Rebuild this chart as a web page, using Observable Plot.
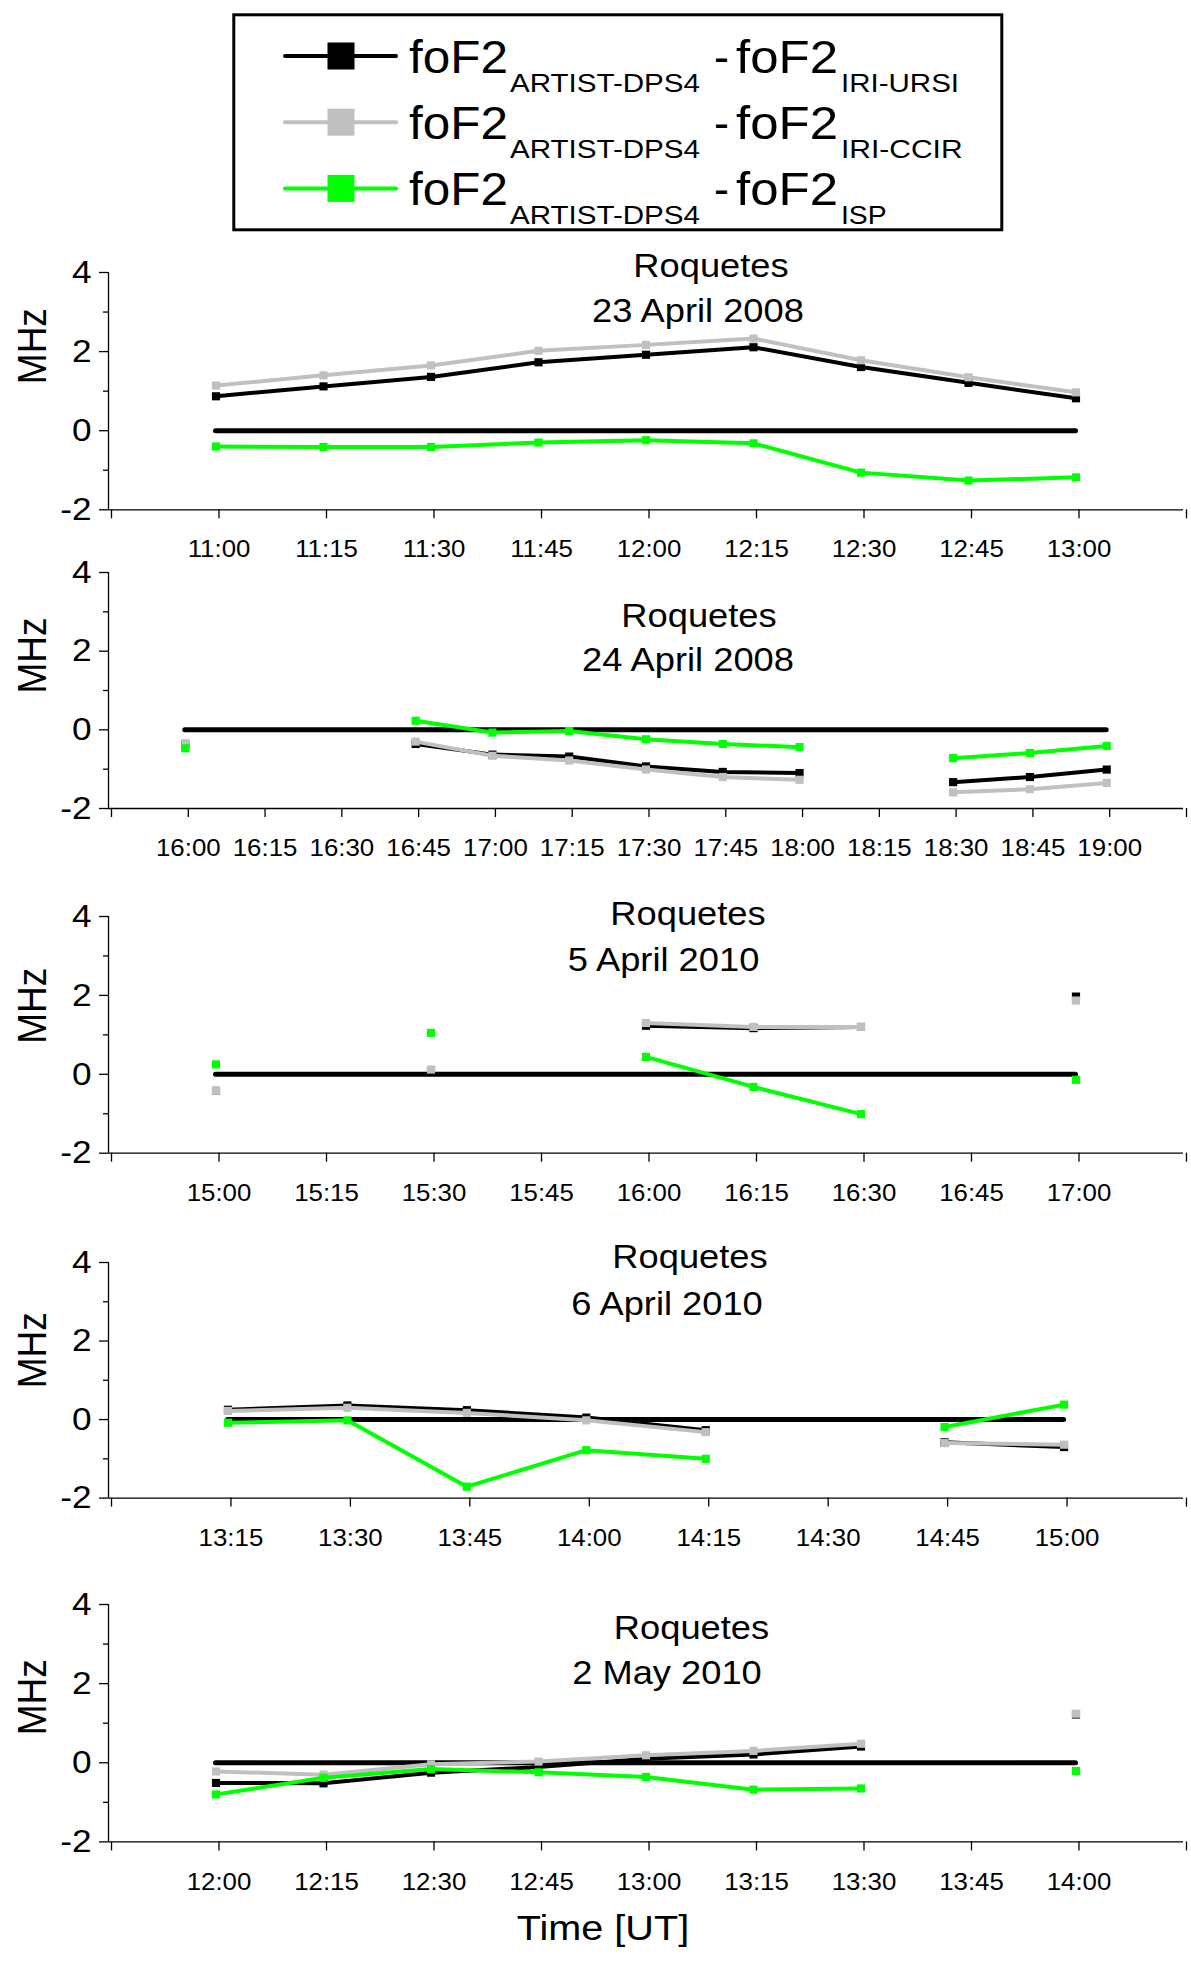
<!DOCTYPE html>
<html>
<head>
<meta charset="utf-8">
<script src="https://cdn.jsdelivr.net/npm/d3@7"></script>
<script src="https://cdn.jsdelivr.net/npm/@observablehq/plot@0.6"></script>
<style>
  html, body { margin: 0; padding: 0; background: #fff; overflow: hidden; }
  #fig { position: relative; width: 1191px; height: 1965px; font-family: "Liberation Sans", Arial, sans-serif; }
  #fig svg { position: absolute; left: 0; overflow: visible; }
</style>
</head>
<body>
<div id="fig"></div>
<script>
// ---------------- DATA ----------------
const seriesNames  = ["IRI-URSI", "IRI-CCIR", "ISP"];
const seriesColors = ["#000000", "#c0c0c0", "#00ff00"];
const legendMain = "foF2";
const legendRef  = "ARTIST-DPS4";

const stationName = "Roquetes";
const panelDates = ["23 April 2008", "24 April 2008", "5 April 2010", "6 April 2010", "2 May 2010"];
const yAxisLabel = "MHz";
const xAxisLabel = "Time [UT]";
const yMajorTicks = [-2, 0, 2, 4];
const yMinorTicks = [-1, 1, 3];

// Panel 1 — 23 April 2008
const p1Times = ["11:00","11:15","11:30","11:45","12:00","12:15","12:30","12:45","13:00"];
const p1Ursi  = [0.87, 1.12, 1.36, 1.73, 1.92, 2.11, 1.61, 1.21, 0.82];
const p1Ccir  = [1.14, 1.40, 1.65, 2.02, 2.17, 2.33, 1.78, 1.35, 0.97];
const p1Isp   = [-0.40, -0.41, -0.41, -0.30, -0.24, -0.32, -1.06, -1.26, -1.18];

// Panel 2 — 24 April 2008
const p2Times = ["16:00","16:15","16:30","16:45","17:00","17:15","17:30","17:45","18:00","18:15","18:30","18:45","19:00"];
const p2Ursi  = [-0.38, null, null, -0.36, -0.63, -0.68, -0.93, -1.07, -1.10, null, -1.33, -1.20, -1.01];
const p2Ccir  = [-0.34, null, null, -0.30, -0.66, -0.78, -1.01, -1.20, -1.27, null, -1.59, -1.51, -1.35];
const p2Isp   = [-0.47, null, null, 0.23, -0.07, -0.03, -0.24, -0.36, -0.44, null, -0.72, -0.59, -0.41];

// Panel 3 — 5 April 2010
const p3Times = ["15:00","15:15","15:30","15:45","16:00","16:15","16:30","16:45","17:00"];
const p3Ursi  = [-0.42, null, 0.10, null, 1.23, 1.17, 1.20, null, 1.97];
const p3Ccir  = [-0.42, null, 0.12, null, 1.30, 1.20, 1.20, null, 1.87];
const p3Isp   = [0.25, null, 1.05, null, 0.44, -0.32, -1.01, null, -0.14];

// Panel 4 — 6 April 2010
const p4Times = ["13:15","13:30","13:45","14:00","14:15","14:30","14:45","15:00"];
const p4Ursi  = [0.25, 0.36, 0.24, 0.05, -0.27, null, -0.58, -0.70];
const p4Ccir  = [0.22, 0.30, 0.17, -0.02, -0.32, null, -0.60, -0.64];
const p4Isp   = [-0.08, -0.02, -1.71, -0.78, -1.00, null, -0.19, 0.38];

// Panel 5 — 2 May 2010
const p5Times = ["12:00","12:15","12:30","12:45","13:00","13:15","13:30","13:45","14:00"];
const p5Ursi  = [-0.51, -0.52, -0.25, -0.11, 0.10, 0.21, 0.41, null, 1.22];
const p5Ccir  = [-0.22, -0.30, -0.04, 0.03, 0.19, 0.30, 0.48, null, 1.24];
const p5Isp   = [-0.80, -0.38, -0.16, -0.24, -0.36, -0.68, -0.65, null, -0.21];

const panelData = [
  [p1Times, p1Ursi, p1Ccir, p1Isp],
  [p2Times, p2Ursi, p2Ccir, p2Isp],
  [p3Times, p3Ursi, p3Ccir, p3Isp],
  [p4Times, p4Ursi, p4Ccir, p4Isp],
  [p5Times, p5Ursi, p5Ccir, p5Isp]
];

// ---------------- LAYOUT ----------------
const W = 1191, ML = 108, MR = 8, MT = 40;
const layout = [
  {top: 271.7,  h: 237.3, mb: 60,  mhzDy: -45, tDx: 65,   tDy: -5.6, dDx: 52,   dDy: 39.4},
  {top: 572.3,  h: 236.0, mb: 60,  mhzDy: -35, tDx: 53,   tDy: 44.4, dDx: 42,   dDy: 87.8},
  {top: 916.0,  h: 236.7, mb: 60,  mhzDy: -29, tDx: 42,   tDy: -2.3, dDx: 17.5, dDy: 44.1},
  {top: 1261.7, h: 235.6, mb: 60,  mhzDy: -30, tDx: 44,   tDy: -4.6, dDx: 21,   dDy: 41.7},
  {top: 1604.3, h: 237.4, mb: 110, mhzDy: -26, tDx: 45.5, tDy: 24.4, dDx: 21,   dDy: 69.1}
];
const STRETCH = 1.1;

const toMin = s => { const [h, m] = s.split(":").map(Number); return h * 60 + m; };
const fig = document.getElementById("fig");

// ---------------- LEGEND ----------------
{
  const svg = d3.create("svg").attr("width", W).attr("height", 240).style("top", "0px");
  svg.append("rect").attr("x", 233.8).attr("y", 14.8).attr("width", 768).attr("height", 215)
    .attr("fill", "none").attr("stroke", "#000").attr("stroke-width", 3);
  const subLens = [118, 121.6, 45.6];
  seriesNames.forEach((name, i) => {
    const yl = 56 + 66.2 * i, yb = 72.7 + 66.2 * i, ys = 92 + 66.2 * i;
    svg.append("line").attr("x1", 285).attr("x2", 396).attr("y1", yl).attr("y2", yl)
      .attr("stroke", seriesColors[i]).attr("stroke-width", 4).attr("stroke-linecap", "round");
    svg.append("rect").attr("x", 327.5).attr("y", yl - 13.5).attr("width", 27).attr("height", 27)
      .attr("fill", seriesColors[i]);
    const t = (x, y, fs, str, len) => {
      const el = svg.append("text").attr("x", x).attr("y", y).attr("font-size", fs)
        .attr("font-family", "Liberation Sans, Arial, sans-serif").attr("fill", "#000").text(str);
      if (len) el.attr("textLength", len).attr("lengthAdjust", "spacingAndGlyphs");
    };
    t(409, yb, 45.5, legendMain, 99);
    t(510, ys, 25, legendRef, 190);
    t(714, yb, 45.5, "-", 15);
    t(736, yb, 45.5, legendMain, 102);
    t(841, ys, 25, name, subLens[i]);
  });
  fig.appendChild(svg.node());
}

// ---------------- PANELS ----------------
panelData.forEach(([times, ursi, ccir, isp], p) => {
  const L = layout[p];
  const rows = times.map((t, i) => ({t: toMin(t), label: t, v0: ursi[i], v1: ccir[i], v2: isp[i]}));
  const tFirst = toMin(times[0]), tLast = toMin(times[times.length - 1]);
  const x0 = tFirst - 15, x1 = tLast + 15;
  const allTicks = d3.range(x0, x1 + 1, 15);
  const labelMap = new Map(rows.map(r => [r.t, r.label]));

  const seriesMarks = [];
  ["v0", "v1", "v2"].forEach((k, i) => {
    seriesMarks.push(Plot.line(rows, {x: "t", y: k, stroke: seriesColors[i], strokeWidth: 4, strokeLinejoin: "round"}));
    seriesMarks.push(Plot.dot(rows, {x: "t", y: k, fill: seriesColors[i], symbol: "square", r: 4.6, stroke: "none"}));
  });

  const marks = [
    Plot.ruleY([-2], {stroke: "#000", strokeWidth: 1.3}),
    Plot.ruleX([x0], {stroke: "#000", strokeWidth: 1.3}),
    Plot.axisX({ticks: allTicks, tickFormat: m => labelMap.get(m) ?? "", tickSize: 9, tickPadding: 22,
      fontSize: 23.5, dx: 3, label: null, strokeWidth: 1.3, fill: "#000"}),
    Plot.axisY({ticks: yMajorTicks, tickFormat: d => String(d), tickSize: 9, tickPadding: 8, fontSize: 32,
      label: null, strokeWidth: 1.3, fill: "#000"}),
    Plot.axisY({ticks: yMinorTicks, tickSize: 5, tickFormat: () => "", label: null, strokeWidth: 1.3}),
    Plot.ruleY([0], {x1: tFirst, x2: tLast, stroke: "#000", strokeWidth: 5, strokeLinecap: "round"}),
    ...seriesMarks,
    Plot.text([stationName], {text: d => d, frameAnchor: "top", textAnchor: "middle", lineAnchor: "middle",
      dx: L.tDx, dy: L.tDy, fontSize: 33, fill: "#000"}),
    Plot.text([panelDates[p]], {text: d => d, frameAnchor: "top", textAnchor: "middle", lineAnchor: "middle",
      dx: L.dDx, dy: L.dDy, fontSize: 33, fill: "#000"}),
    Plot.text([yAxisLabel], {text: d => d, frameAnchor: "left", textAnchor: "middle", lineAnchor: "middle",
      rotate: -90, dx: -76, dy: L.mhzDy, fontSize: 37, fill: "#000"})
  ];
  if (p === panelData.length - 1) {
    marks.push(Plot.text([xAxisLabel], {text: d => d, frameAnchor: "bottom", textAnchor: "middle", lineAnchor: "middle",
      dx: -43, dy: 87, fontSize: 36, fill: "#000"}));
  }

  const chart = Plot.plot({
    width: W,
    height: MT + L.h + L.mb,
    marginLeft: ML, marginRight: MR, marginTop: MT, marginBottom: L.mb,
    x: {domain: [x0, x1]},
    y: {domain: [-2, 4]},
    style: {fontFamily: "Liberation Sans, Arial, sans-serif", background: "transparent", overflow: "visible", color: "#000"},
    marks
  });
  chart.style.top = (L.top - MT) + "px";
  fig.appendChild(chart);
});

// Slight horizontal stretch of the text, like the reference figure
fig.querySelectorAll("svg text").forEach(el => {
  if (el.hasAttribute("textLength")) return;
  if (el.querySelector("tspan")) return;
  if (el.textContent === "") return;
  if (el.textContent === yAxisLabel) {
    const tr = el.getAttribute("transform");
    if (tr && tr.includes("rotate")) el.setAttribute("transform", tr + " scale(1,1.12)");
    return;
  }
  const w = el.getComputedTextLength();
  if (w > 0) {
    el.setAttribute("textLength", (w * STRETCH).toFixed(1));
    el.setAttribute("lengthAdjust", "spacingAndGlyphs");
  }
});
</script>
</body>
</html>
